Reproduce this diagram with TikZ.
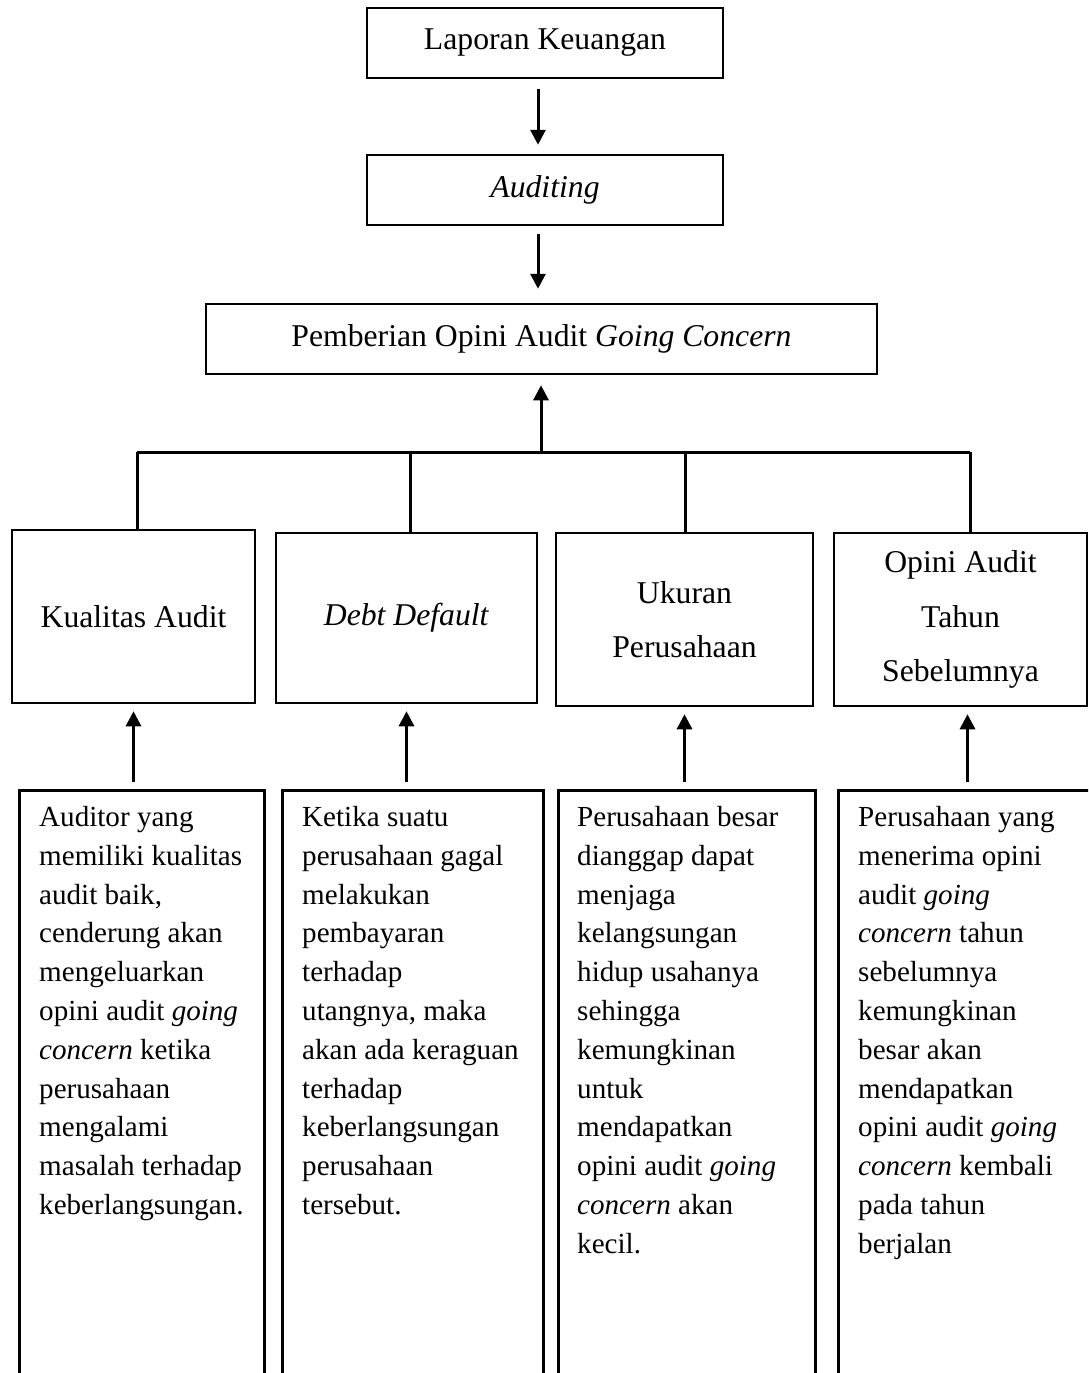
\documentclass[tikz,border=0pt]{standalone}
\usepackage{fontspec}
\setmainfont{Liberation Serif}
\usetikzlibrary{arrows.meta}

\begin{document}
\begin{tikzpicture}[x=1pt,y=-1pt,
		every node/.style={font=\fontsize{31.7}{38.8}\selectfont},
		kotak/.style={draw, line width=2.5pt, inner sep=0pt, align=center},
		variabel/.style={kotak, font=\fontsize{31.7}{54.5}\selectfont},
		bingkai/.style={draw, line width=2.5pt, inner sep=0pt, anchor=north west, minimum height=700pt},
		isi/.style={anchor=north west, inner sep=0pt, align=left, font=\fontsize{29.1}{38.8}\selectfont},
		garis/.style={line width=3pt},
		panah/.style={line width=3pt, -{Triangle[length=15pt,width=15pt]}}]
		\clip (0,0) rectangle (1088,1373);
		% alur atas
		\node[kotak, minimum width=356pt, minimum height=70pt] (lap) at (545,43) {Laporan Keuangan};
		\node[kotak, minimum width=356pt, minimum height=70pt] (aud) at (545,190) {\textit{Auditing}};
		\node[kotak, minimum width=671pt, minimum height=70pt] (gc) at (541.5,339) {Pemberian Opini Audit \textit{Going Concern}};
		\coordinate (x0) at (538,0);
		\draw[panah, shorten <=10pt, shorten >=9pt] (x0 |- lap.south) -- (x0 |- aud.north);
		\draw[panah, shorten <=8pt, shorten >=14pt] (x0 |- aud.south) -- (x0 |- gc.north);
		% variabel
		\node[variabel, minimum width=243pt, minimum height=173pt] (kual) at (133.5,616.5) {Kualitas Audit};
		\node[variabel, minimum width=261pt, minimum height=170pt] (debt) at (406.5,618) {\textit{Debt Default}};
		\node[variabel, minimum width=257pt, minimum height=173pt] (uk) at (684.5,619.5) {Ukuran\\Perusahaan};
		\node[variabel, minimum width=253pt, minimum height=173pt] (op) at (960.5,619.5) {Opini Audit\\Tahun\\Sebelumnya};
		\coordinate (hub) at (541,452);
		\coordinate (b1) at (137,452);
		\coordinate (b2) at (410,452);
		\coordinate (b3) at (685,452);
		\coordinate (b4) at (970,452);
		\draw[garis] (b1) -- (b4);
		\draw[garis] (b1) -- (b1 |- kual.north);
		\draw[garis] (b2) -- (b2 |- debt.north);
		\draw[garis] (b3) -- (b3 |- uk.north);
		\draw[garis] (b4) -- (b4 |- op.north);
		\draw[panah, shorten >=10pt] (hub) -- (hub |- gc.south);
		% keterangan
		\node[bingkai, minimum width=245pt] (f1) at (18,789) {};
		\node[bingkai, minimum width=261pt] (f2) at (281,789) {};
		\node[bingkai, minimum width=257pt] (f3) at (557,789) {};
		\node[bingkai, minimum width=260pt] (f4) at (837,789) {};
		\node[isi] (t1) at (39,806) {Auditor yang\\memiliki kualitas\\audit baik,\\cenderung akan\\mengeluarkan\\opini audit \textit{going}\\\textit{concern} ketika\\perusahaan\\mengalami\\masalah terhadap\\keberlangsungan.};
		\node[isi] (t2) at (302,806) {Ketika suatu\\perusahaan gagal\\melakukan\\pembayaran\\terhadap\\utangnya, maka\\akan ada keraguan\\terhadap\\keberlangsungan\\perusahaan\\tersebut.};
		\node[isi] (t3) at (577,806) {Perusahaan besar\\dianggap dapat\\menjaga\\kelangsungan\\hidup usahanya\\sehingga\\kemungkinan\\untuk\\mendapatkan\\opini audit \textit{going}\\\textit{concern} akan\\kecil.};
		\node[isi] (t4) at (858,806) {Perusahaan yang\\menerima opini\\audit \textit{going}\\\textit{concern} tahun\\sebelumnya\\kemungkinan\\besar akan\\mendapatkan\\opini audit \textit{going}\\\textit{concern} kembali\\pada tahun\\berjalan};
		\draw[panah, shorten <=7pt, shorten >=7pt] (kual.south |- f1.north) -- (kual.south);
		\draw[panah, shorten <=7pt, shorten >=7pt] (debt.south |- f2.north) -- (debt.south);
		\draw[panah, shorten <=7pt, shorten >=7pt] (uk.south |- f3.north) -- (uk.south);
		\draw[panah, shorten <=7pt, shorten >=7pt] ([xshift=7pt]op.south |- f4.north) -- ([xshift=7pt]op.south);
\end{tikzpicture}
\end{document}
